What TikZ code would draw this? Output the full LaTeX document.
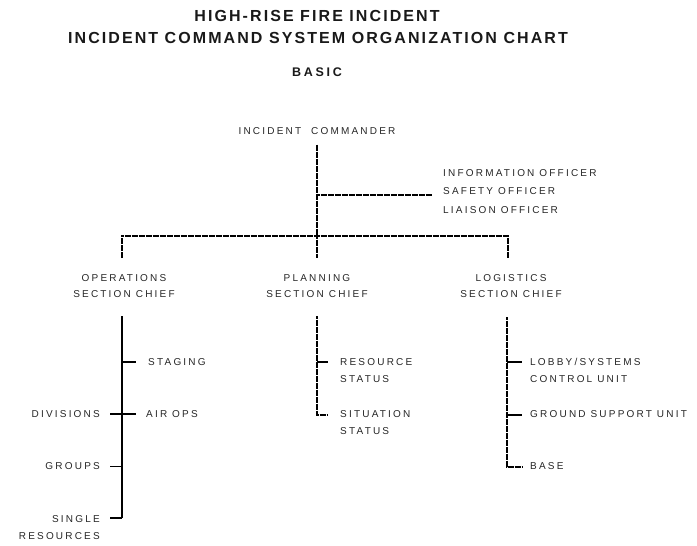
\documentclass[tikz,border=0pt]{standalone}
\usepackage{fontspec}
\setmainfont{Liberation Sans}
\newfontfamily\lblfont[LetterSpace=22]{Liberation Sans}
\newfontfamily\ttlfont[LetterSpace=13]{Liberation Sans}
\newfontfamily\subfont[LetterSpace=22]{Liberation Sans}
\begin{document}
\begin{tikzpicture}[x=1pt,y=-1pt,
  lbl/.style={font=\lblfont\fontsize{10}{17}\selectfont, inner sep=0pt, text=black!85},
  ttl/.style={font=\ttlfont\bfseries\fontsize{16}{18}\selectfont, inner sep=0pt, text=black!90},
  sub/.style={font=\subfont\bfseries\fontsize{12.5}{14}\selectfont, inner sep=0pt, text=black!90},
  rule/.style={line width=1.1pt, dash pattern=on 3pt off 0.5pt},
  solidrule/.style={line width=1.3pt},
  tick/.style={line width=1.2pt}]
\useasboundingbox (0,0) rectangle (697,546);

% titles
\node[ttl] (t1) at (317,16) {HIGH-RISE FIRE INCIDENT};
\node[ttl] (t2) at (318,37.5) {INCIDENT COMMAND SYSTEM ORGANIZATION CHART};
\node[sub] (basic) at (317,72) {BASIC};

% command staff
\node[lbl] (ic) at (317,131) {INCIDENT\ \ COMMANDER};
\node[lbl, anchor=west, align=left, font=\lblfont\fontsize{10}{18.5}\selectfont] (off) at (443,191.5)
  {INFORMATION OFFICER\\SAFETY OFFICER\\LIAISON OFFICER};
\coordinate (icbar) at (317,236);
\coordinate (offj) at (317,195);
\draw[rule] ([yshift=-10pt]ic.south) -- (icbar);
\draw[rule] (offj) -- (offj -| off.west) [shorten >=11pt];

% section chiefs
\node[lbl, align=center, font=\lblfont\fontsize{10}{15.5}\selectfont] (ops) at (124,286) {OPERATIONS\\SECTION CHIEF};
\node[lbl, align=center, font=\lblfont\fontsize{10}{15.5}\selectfont] (plan) at (317,286) {PLANNING\\SECTION CHIEF};
\node[lbl, align=center, font=\lblfont\fontsize{10}{15.5}\selectfont] (log) at (511,286) {LOGISTICS\\SECTION CHIEF};
\coordinate (opsup) at (122,258);
\coordinate (logup) at (508,258);
\coordinate (planup) at (317,258);
\draw[rule] (opsup) |- (icbar) -| (logup);
\draw[rule] (icbar) -- (planup);

% operations section
\coordinate (opstop) at (122,316);
\coordinate (opsbot) at (122,518);
\node[lbl, anchor=west] (staging) at (148,362) {STAGING};
\node[lbl, anchor=west] (airops) at (146,414) {AIR OPS};
\node[lbl, anchor=east] (div) at (100,414) {DIVISIONS};
\node[lbl, anchor=east] (grp) at (100,466.5) {GROUPS};
\node[lbl, anchor=east, align=right] (single) at (100,527.5) {SINGLE\\RESOURCES};
\draw[solidrule] (opstop) -- (opsbot);
\draw[tick] (opstop |- staging) -- (staging.west) [shorten >=12pt];
\draw[tick] (div.east) -- (airops.west) [shorten <=10pt, shorten >=10pt];
\draw[tick] (grp.east) -- (opstop |- grp) [shorten <=10pt];
\coordinate (singlej) at (100,518);
\draw[tick] (singlej) -- (opsbot) [shorten <=10pt];

% planning section
\coordinate (plantop) at (317,316);
\node[lbl, anchor=west, align=left] (res) at (340,370.5) {RESOURCE\\STATUS};
\node[lbl, anchor=west, align=left] (sit) at (340,423) {SITUATION\\STATUS};
\coordinate (resj) at (317,362);
\coordinate (sitj) at (317,415);
\draw[rule] (plantop) -- (sitj) -- ++(11,0) coordinate (sitend);
\draw[tick] (resj) -- ++(11,0) coordinate (resend);

% logistics section
\coordinate (logtop) at (507,317);
\node[lbl, anchor=west, align=left] (lobby) at (530,370) {LOBBY/SYSTEMS\\CONTROL UNIT};
\node[lbl, anchor=west] (ground) at (530,414.5) {GROUND SUPPORT UNIT};
\node[lbl, anchor=west] (base) at (530,466.5) {BASE};
\coordinate (lobj) at (507,362);
\coordinate (grdj) at (507,415);
\coordinate (basej) at (507,467);
\draw[rule] (logtop) -- (basej) -- ++(15,0) coordinate (baseend);
\draw[tick] (lobj) -- ++(15,0) coordinate (lobend);
\draw[tick] (grdj) -- ++(15,0) coordinate (grdend);
\end{tikzpicture}
\end{document}
